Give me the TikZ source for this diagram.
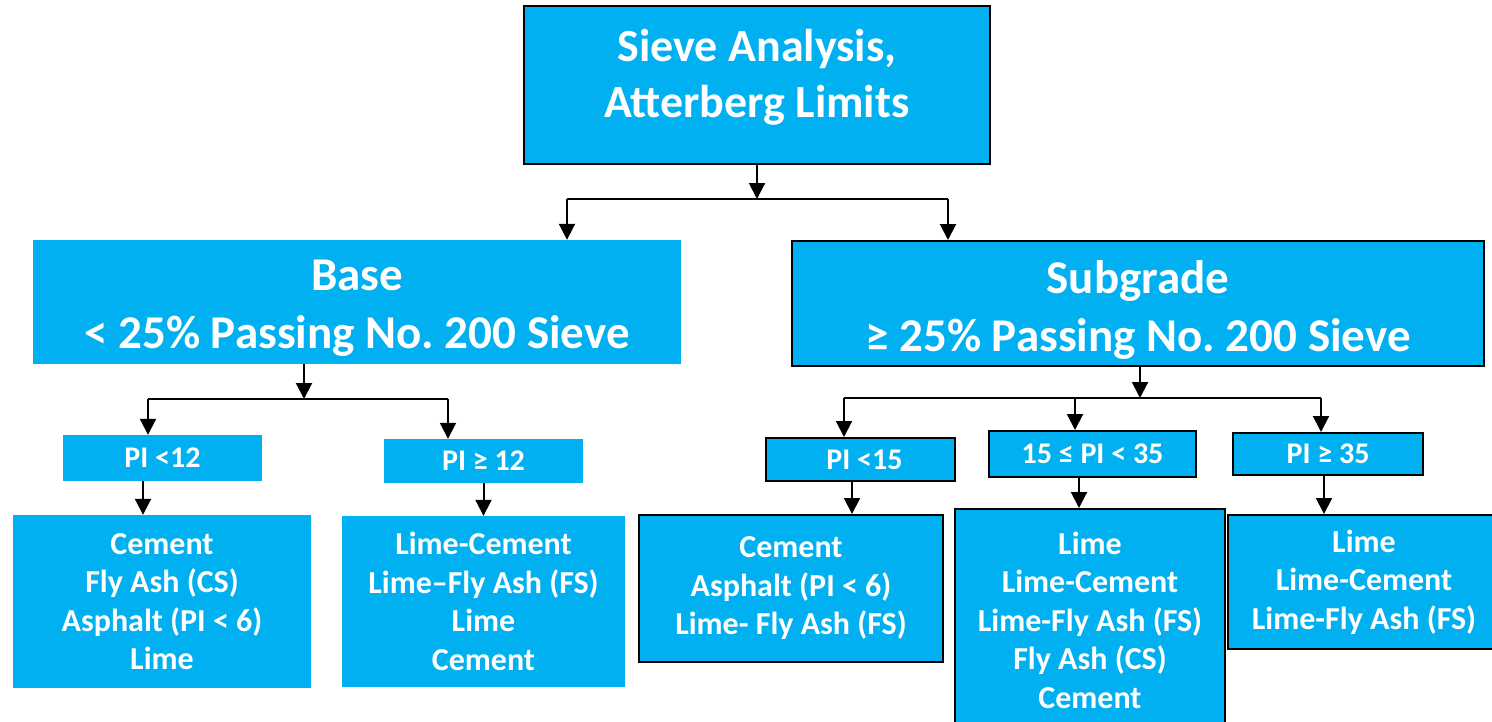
\documentclass[tikz,border=0pt]{standalone}
\usepackage{fontspec}
\setmainfont{Carlito}
\usetikzlibrary{arrows.meta}
\definecolor{boxblue}{HTML}{00B0F0}
\begin{document}
\frenchspacing
\begin{tikzpicture}[x=1pt,y=-1pt,
  box/.style={rectangle, fill=boxblue, text=white, align=center, inner sep=0pt},
  txt/.style={text=white, align=center, inner sep=0pt},
  bordered/.style={draw=black, line width=2pt},
  arr/.style={draw=black, line width=2pt, -{Triangle[length=16pt,width=16pt]}},
  ln/.style={draw=black, line width=2pt},
  topfont/.style={font=\bfseries\fontsize{46}{56}\selectfont},
  bigfont/.style={font=\bfseries\fontsize{47}{58}\selectfont},
  resfont/.style={font=\bfseries\fontsize{32}{38.5}\selectfont},
  pifont/.style={font=\bfseries\fontsize{30}{36}\selectfont}]
\useasboundingbox (0,0) rectangle (1492,721);

% top
\node[box,bordered,minimum width=466,minimum height=158] (top) at (757,85) {};
\node[txt,topfont] (toptext) at (757,77) {Sieve Analysis,\\Atterberg Limits};

% level 2
\node[box,minimum width=648,minimum height=124] (base) at (357,302) {};
\node[txt,bigfont] (basetext) at (357,308) {Base\\< 25\% Passing No. 200 Sieve};
\node[box,bordered,minimum width=692,minimum height=125] (sub) at (1138,303.5) {};
\node[txt,bigfont] (subtext) at (1138,310) {Subgrade\\≥ 25\% Passing No. 200 Sieve};

% PI labels
\node[box,pifont,minimum width=199,minimum height=46] (pi1) at (162.5,458) {PI <12};
\node[box,pifont,minimum width=199,minimum height=44] (pi2) at (483.5,461) {PI ≥ 12};
\node[box,bordered,pifont,minimum width=189,minimum height=43] (pi3) at (860.5,459.5) {\hspace{8pt}PI <15};
\node[box,bordered,pifont,minimum width=207,minimum height=46] (pi4) at (1092.5,454) {15 ≤ PI < 35};
\node[box,bordered,pifont,minimum width=190,minimum height=42] (pi5) at (1328,454) {PI ≥ 35};

% results
\node[box,resfont,minimum width=298,minimum height=173] (r1) at (162,601.5) {Cement\\Fly Ash (CS)\\Asphalt (PI < 6)\\Lime};
\node[box,resfont,minimum width=283,minimum height=171] (r2) at (483.5,601.5) {Lime-Cement\\Lime–Fly Ash (FS)\\Lime\\Cement};
\node[box,bordered,resfont,minimum width=304,minimum height=147] (r3) at (791,588.5) {Cement\\Asphalt (PI < 6)\\Lime- Fly Ash (FS)};
\node[box,bordered,resfont,minimum width=270,minimum height=222] (r4) at (1090,620) {Lime\\Lime-Cement\\Lime-Fly Ash (FS)\\Fly Ash (CS)\\Cement};
\node[box,bordered,resfont,minimum width=272,minimum height=134] (r5) at (1364,582) {Lime\\Lime-Cement\\Lime-Fly Ash (FS)};

% connectors: top
\coordinate (j0) at (757,199);
\coordinate (j0l) at (567,199);
\coordinate (j0r) at (948,199);
\draw[arr] (top.south) -- (j0);
\draw[ln] (j0l) -- (j0r);
\draw[arr] (j0l) -- (j0l |- base.north);
\draw[arr] (j0r) -- (j0r |- sub.north);

% base branch
\coordinate (j1) at (304,399);
\coordinate (j1l) at (148,399);
\coordinate (j1r) at (448,399);
\draw[arr] (j1 |- base.south) -- (j1);
\draw[ln] (j1l) -- (j1r);
\draw[arr] (j1l) -- (j1l |- pi1.north);
\draw[arr] (j1r) -- (j1r |- pi2.north);
\draw[arr] ([xshift=-19.5pt]pi1.south) -- ([xshift=-19.5pt]pi1.south |- r1.north);
\draw[arr] (pi2.south) -- (pi2.south |- r2.north);

% subgrade branch
\coordinate (j2) at (1140,398);
\coordinate (j2l) at (844,398);
\coordinate (j2m) at (1075,398);
\coordinate (j2r) at (1321,398);
\draw[arr] (j2 |- sub.south) -- (j2);
\draw[ln] (j2l) -- (j2r);
\draw[arr] (j2l) -- (j2l |- pi3.north);
\draw[arr] (j2m) -- (j2m |- pi4.north);
\draw[arr] (j2r) -- (j2r |- pi5.north);
\draw[arr] ([xshift=-8.5pt]pi3.south) -- ([xshift=-8.5pt]pi3.south |- r3.north);
\draw[arr] ([xshift=-13.5pt]pi4.south) -- ([xshift=-13.5pt]pi4.south |- r4.north);
\draw[arr] ([xshift=-4pt]pi5.south) -- ([xshift=-4pt]pi5.south |- r5.north);
\end{tikzpicture}
\end{document}
